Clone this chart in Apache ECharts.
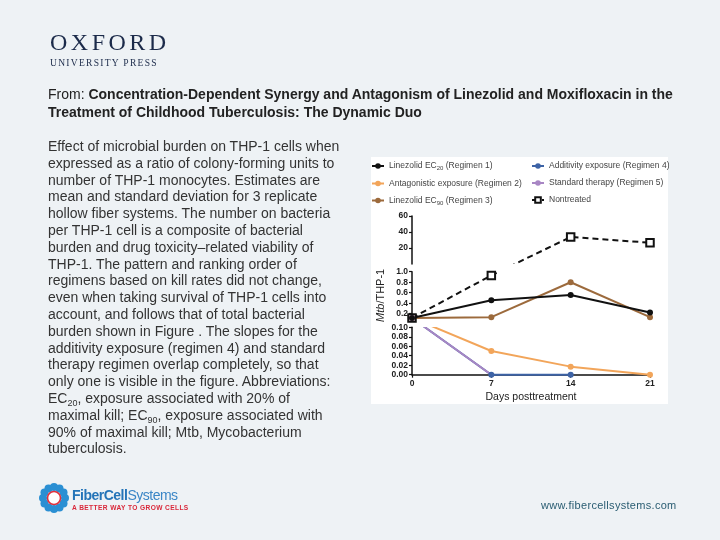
<!DOCTYPE html>
<html>
<head>
<meta charset="utf-8">
<script src="https://cdn.jsdelivr.net/npm/echarts@6/dist/echarts.min.js"></script>
<style>
html, body { margin: 0; padding: 0; }
body { width: 720px; height: 540px; background: #eef2f5; position: relative; overflow: hidden;
  font-family: "Liberation Sans", Arial, sans-serif; color: #333; }
#chart { position: absolute; left: 0; top: 0; width: 720px; height: 540px; }
.t { position: absolute; z-index: 2; white-space: nowrap; }
.oxford { left: 50px; top: 29px; font-family: "Liberation Serif", "DejaVu Serif", serif; color: #1c2b4a; font-size: 24px; letter-spacing: 3.5px; }
.press { left: 50px; top: 58px; font-family: "Liberation Serif", "DejaVu Serif", serif; color: #1c2b4a; font-size: 9.5px; letter-spacing: 1.3px; }
.title { left: 48px; top: 85px; font-size: 14px; line-height: 18px; color: #222; }
.desc { left: 48px; top: 138px; font-size: 14px; line-height: 16.8px; color: #333; }
.desc sub { font-size: 9px; vertical-align: -3px; line-height: 0; }
.fcs { left: 72px; top: 487px; font-size: 14px; color: #3a86c6; letter-spacing: -0.5px; }
.fcs b { color: #2474b8; }
.tag { left: 72px; top: 504px; font-size: 6.6px; font-weight: bold; color: #d9283a; letter-spacing: 0.4px; }
.url { left: 541px; top: 499px; font-size: 11px; color: #2a5d72; letter-spacing: 0.3px; }
</style>
</head>
<body>
<div id="chart"></div>
<div class="t oxford">OXFORD</div>
<div class="t press">UNIVERSITY PRESS</div>
<div class="t title">From: <b>Concentration-Dependent Synergy and Antagonism of Linezolid and Moxifloxacin in the</b><br><b>Treatment of Childhood Tuberculosis: The Dynamic Duo</b></div>
<div class="t desc">Effect of microbial burden on THP-1 cells when<br>expressed as a ratio of colony-forming units to<br>number of THP-1 monocytes. Estimates are<br>mean and standard deviation for 3 replicate<br>hollow fiber systems. The number on bacteria<br>per THP-1 cell is a composite of bacterial<br>burden and drug toxicity–related viability of<br>THP-1. The pattern and ranking order of<br>regimens based on kill rates did not change,<br>even when taking survival of THP-1 cells into<br>account, and follows that of total bacterial<br>burden shown in Figure . The slopes for the<br>additivity exposure (regimen 4) and standard<br>therapy regimen overlap completely, so that<br>only one is visible in the figure. Abbreviations:<br>EC<sub>20</sub>, exposure associated with 20% of<br>maximal kill; EC<sub>90</sub>, exposure associated with<br>90% of maximal kill; Mtb, Mycobacterium<br>tuberculosis.</div>
<div class="t fcs"><b>FiberCell</b>Systems</div>
<div class="t tag">A BETTER WAY TO GROW CELLS</div>
<div class="t url">www.fibercellsystems.com</div>
<script>
// days after treatment start
const days = [0, 7, 14, 21];

// Mtb per THP-1 cell
const ec20 = [0.12, 0.455, 0.555, 0.225];
const antagonistic = [0.12, 0.05, 0.017, 0];
const ec90 = [0.12, 0.135, 0.80, 0.135];
const additivity = [0.12, 0, 0, null];
const standard = [0.12, 0, null, null];
const nontreated = [0.12, 0.93, 33.8, 26.6];

// y tick labels of the three axis segments
const ticksBottom = [0, 0.02, 0.04, 0.06, 0.08, 0.10];
const ticksMiddle = [0.2, 0.4, 0.6, 0.8, 1.0];
const ticksTop = [20, 40, 60];

// segmented y axis: pixel bands counted up from the x axis
const X0 = 412, PLOT_W = 238, BASE = 374.7;
const seg = {
  bottom: { min: 0, max: 0.1, lo: 0, hi: 47.4 },
  middle: { min: 0.1, max: 1.0, lo: 55.7, hi: 103 },
  top: { min: 0, max: 60, lo: 110.7, hi: 158.7 }
};
function pickSeg(v) {
  if (v <= 0.1) return seg.bottom;
  if (v <= 1.0) return seg.middle;
  return seg.top;
}
function toBand(v) {
  const s = pickSeg(v);
  return s.lo + (v - s.min) / (s.max - s.min) * (s.hi - s.lo);
}

// drawing order: later ones on top
const defs = [
  { name: 'Nontreated', values: nontreated, color: '#111111', symbol: 'emptyRect', size: 7.5, dash: true },
  { name: 'Linezolid EC90 (Regimen 3)', values: ec90, color: '#9c6a3c' },
  { name: 'Additivity exposure (Regimen 4)', values: additivity, color: '#3d63a6' },
  { name: 'Antagonistic exposure (Regimen 2)', values: antagonistic, color: '#f2a55a' },
  { name: 'Standard therapy (Regimen 5)', values: standard, color: '#a886c4', hideZero: true },
  { name: 'Linezolid EC20 (Regimen 1)', values: ec20, color: '#111111' }
];

const clear = 'rgba(0,0,0,0)';

const series = defs.map(d => ({
  name: d.name,
  type: 'line',
  xAxisIndex: 0,
  yAxisIndex: 0,
  data: days.map((x, i) => d.values[i] == null ? null : [x, toBand(d.values[i])]).filter(p => p),
  symbol: d.symbol || 'circle',
  symbolSize: d.hideZero ? (v => v[1] === 0 ? 0 : 6) : (d.size || 6),
  color: d.color,
  lineStyle: { width: 2, type: d.dash ? [6, 4] : 'solid' },
  itemStyle: { color: d.color, borderWidth: d.symbol ? 1.7 : 0 },
  clip: false,
  animation: false
}));

// hide line pieces that fall in the gaps between axis segments
const visualMap = defs.map((d, i) => ({
  type: 'piecewise', show: false, seriesIndex: i, dimension: 1,
  pieces: [
    { gte: -1, lte: seg.bottom.hi, color: d.color },
    { gt: seg.bottom.hi, lt: seg.middle.lo, color: clear },
    { gte: seg.middle.lo, lte: seg.middle.hi, color: d.color },
    { gt: seg.middle.hi, lt: seg.top.lo, color: clear },
    { gte: seg.top.lo, lte: 1000, color: d.color }
  ]
}));

const axisText = { color: '#222', fontSize: 8.5, fontWeight: 'bold', margin: 4 };
function segAxis(s, ticks, digits, extra) {
  return Object.assign({
    type: 'value', gridIndex: 0, min: s.min, max: s.max,
    axisLine: { show: true, lineStyle: { color: '#111', width: 1.5 } },
    axisTick: { show: true, length: 3, lineStyle: { color: '#111', width: 1.2 }, customValues: ticks },
    axisLabel: Object.assign({ customValues: ticks, formatter: v => v.toFixed(digits) }, axisText),
    splitLine: { show: false }
  }, extra);
}

const legendText = {
  fontSize: 8.5, color: '#444', lineHeight: 10,
  rich: {
    n: { fontSize: 8.5, color: '#444' },
    s: { fontSize: 6, color: '#444', padding: [5, 0, 0, 0] }
  }
};
function legendFmt(name) {
  const m = name.match(/^(.*EC)(\d+)(.*)$/);
  if (!m) return '{n|' + name + '}';
  return '{n|' + m[1] + '}{s|' + m[2] + '}{n|' + m[3] + '}';
}
const legendBase = {
  orient: 'vertical', top: 161, padding: 0, itemGap: 7, itemWidth: 12, itemHeight: 7,
  selectedMode: false, textStyle: legendText, formatter: legendFmt
};

// FiberCell logo dots
const logo = [];
for (let k = 0; k < 12; k++) {
  const a = k / 12 * Math.PI * 2;
  logo.push({ type: 'circle', shape: { cx: 54 + 11 * Math.cos(a), cy: 498 + 11 * Math.sin(a), r: 4 },
    style: { fill: '#2a8fd3' } });
}
logo.push({ type: 'circle', shape: { cx: 54, cy: 498, r: 6.5 }, style: { fill: '#fff', stroke: '#e0303c', lineWidth: 1.6 } });

const chart = echarts.init(document.getElementById('chart'));
chart.setOption({
  animation: false,
  textStyle: { fontFamily: 'Liberation Sans, Arial, sans-serif' },
  graphic: [
    { type: 'rect', z: -10, shape: { x: 371, y: 157, width: 297, height: 247 }, style: { fill: '#ffffff' } }
  ].concat(logo),
  grid: [
    { left: X0, width: PLOT_W, top: BASE - seg.top.hi, height: seg.top.hi },
    { left: X0, width: PLOT_W, top: BASE - seg.top.hi, height: seg.top.hi - seg.top.lo },
    { left: X0, width: PLOT_W, top: BASE - seg.middle.hi, height: seg.middle.hi - seg.middle.lo },
    { left: X0, width: PLOT_W, top: BASE - seg.bottom.hi, height: seg.bottom.hi - seg.bottom.lo }
  ],
  xAxis: [
    {
      type: 'value', gridIndex: 0, min: 0, max: 21, interval: 7,
      axisLine: { show: true, onZero: false, lineStyle: { color: '#111', width: 1.5 } },
      axisTick: { show: true, length: 3, lineStyle: { color: '#111', width: 1.2 } },
      axisLabel: axisText,
      splitLine: { show: false },
      name: 'Days posttreatment', nameLocation: 'middle', nameGap: 17,
      nameTextStyle: { fontSize: 10.5, color: '#222' }
    },
    { type: 'value', gridIndex: 1, min: 0, max: 21, show: false },
    { type: 'value', gridIndex: 2, min: 0, max: 21, show: false },
    { type: 'value', gridIndex: 3, min: 0, max: 21, show: false }
  ],
  yAxis: [
    { type: 'value', gridIndex: 0, min: 0, max: seg.top.hi, show: false },
    segAxis(seg.top, ticksTop, 0, { gridIndex: 1 }),
    segAxis(seg.middle, ticksMiddle, 1, {
      gridIndex: 2,
      name: '{i|Mtb}/THP-1', nameLocation: 'middle', nameRotate: 90, nameGap: 26,
      nameTextStyle: { fontSize: 11, color: '#222', rich: { i: { fontSize: 11, color: '#222', fontStyle: 'italic' } } }
    }),
    segAxis(seg.bottom, ticksBottom, 2, { gridIndex: 3 })
  ],
  legend: [
    Object.assign({ left: 371, data: ['Linezolid EC20 (Regimen 1)', 'Antagonistic exposure (Regimen 2)', 'Linezolid EC90 (Regimen 3)'] }, legendBase),
    Object.assign({ left: 531, data: ['Additivity exposure (Regimen 4)', 'Standard therapy (Regimen 5)', 'Nontreated'] }, legendBase)
  ],
  visualMap: visualMap,
  series: series
});
</script>
</body>
</html>
